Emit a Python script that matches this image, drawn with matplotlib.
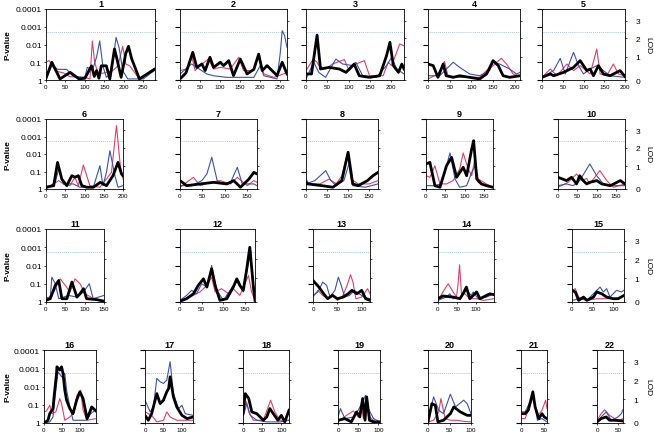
import matplotlib
matplotlib.use('Agg')
import matplotlib.pyplot as plt

plt.rcParams['font.family'] = ['Liberation Sans', 'DejaVu Sans']

# chromosome lengths in cM
chrom_len = [280, 268, 230, 212, 200, 200, 172, 171, 173, 173, 150,
             173, 117, 148, 126, 145, 130, 120, 104, 100, 57, 62]

# -log10(P) along each chromosome, (cM, value)
chr1_red = [(0,1.0),(8,1.1),(25,0.5),(45,0.4),(60,0.2),(80,0.15),(100,0.15),(113,0.06),(119,2.2),(125,1.0),(134,0.35),(150,0.4),(170,0.5),(185,0.8),(197,1.9),(205,0.9),(215,0.8),(240,0.06),(278,0.53)]
chr1_blue = [(0,0.06),(15,0.81),(30,0.6),(53,0.6),(70,0.2),(100,0.15),(106,0.71),(120,0.6),(130,1.3),(138,2.2),(146,0.8),(155,0.15),(168,0.4),(180,2.4),(188,1.8),(197,0.53),(210,0.06),(250,0.06),(278,0.53)]
chr1_black = [(0,0.1),(15,1.0),(36,0.06),(62,0.43),(85,0.06),(100,0.1),(117,0.8),(124,0.2),(130,0.53),(136,0.1),(142,0.8),(155,0.8),(164,0.06),(176,1.75),(182,1.2),(193,0.15),(205,1.5),(212,1.9),(220,1.2),(240,0.06),(278,0.6)]

chr2_red = [(0,0.53),(17,0.62),(29,1.37),(38,0.53),(50,0.81),(71,1.18),(84,0.62),(101,0.71),(126,0.62),(147,1.28),(159,0.53),(185,0.53),(197,1.46),(210,0.34),(235,0.15),(252,0.28),(268,0.43)]
chr2_blue = [(0,0.34),(29,0.9),(42,0.71),(67,0.34),(84,0.24),(117,0.15),(151,0.15),(185,0.15),(201,0.81),(210,0.24),(243,0.06),(251,1.5),(256,2.78),(262,2.5),(268,1.84)]
chr2_black = [(0,0.06),(15,0.4),(32,1.56),(42,0.71),(55,0.9),(63,0.53),(75,1.28),(84,0.71),(101,1.0),(109,0.81),(122,1.09),(134,0.25),(151,1.18),(168,0.34),(185,0.6),(197,1.46),(206,0.53),(218,0.81),(243,0.25),(256,1.0),(268,0.34)]

chr3_red = [(0,0.53),(17,1.18),(26,1.0),(30,0.81),(46,0.62),(62,0.9),(90,1.15),(101,0.53),(117,0.9),(137,1.09),(149,0.24),(181,0.24),(193,1.0),(201,0.81),(220,2.03),(230,1.93)]
chr3_blue = [(0,0.06),(18,1.0),(30,0.43),(46,0.15),(70,1.18),(86,0.9),(110,0.81),(117,1.0),(133,0.24),(165,0.15),(189,0.81),(201,1.28),(213,0.62),(230,0.34)]
chr3_black = [(0,0.34),(13,0.34),(26,2.53),(34,0.62),(54,0.71),(78,0.62),(94,0.43),(113,0.9),(125,0.24),(149,0.15),(173,0.24),(189,1.37),(197,2.12),(205,0.81),(217,0.43),(225,0.9),(230,0.62)]

chr4_red = [(0,0.06),(23,0.34),(38,1.05),(46,0.24),(73,0.15),(119,0.15),(135,0.53),(150,0.81),(169,1.22),(181,0.9),(196,0.34),(212,0.2)]
chr4_blue = [(0,0.24),(27,0.24),(58,1.0),(73,0.71),(96,0.34),(119,0.24),(142,0.53),(150,1.0),(165,0.9),(188,0.62),(204,0.34),(212,0.43)]
chr4_black = [(0,0.9),(12,0.81),(23,0.15),(35,0.9),(42,0.24),(58,0.15),(73,0.24),(96,0.15),(119,0.06),(135,0.34),(150,1.09),(162,0.81),(173,0.24),(188,0.15),(212,0.24)]

chr5_red = [(0,0.15),(20,0.62),(36,0.24),(60,0.9),(76,0.53),(92,0.81),(116,0.34),(132,1.75),(140,0.34),(156,0.24),(172,0.9),(184,0.34),(200,0.24)]
chr5_blue = [(0,0.15),(28,0.53),(44,1.22),(56,0.34),(76,1.56),(88,0.81),(100,0.34),(116,0.62),(132,0.81),(148,0.53),(164,0.24),(200,0.15)]
chr5_black = [(0,0.15),(20,0.34),(28,0.24),(52,0.43),(76,0.71),(92,1.09),(108,0.53),(116,0.62),(124,0.24),(136,0.81),(148,0.34),(164,0.24),(188,0.53),(200,0.2)]

chr6_red = [(0,0.1),(20,0.29),(33,0.48),(45,0.29),(62,0.19),(75,0.67),(84,0.19),(97,1.37),(114,0.19),(140,0.1),(157,0.57),(170,0.95),(183,3.62),(193,1.33),(200,0.57)]
chr6_blue = [(0,0.0),(24,0.38),(33,1.14),(45,0.29),(71,0.29),(88,0.1),(123,0.1),(140,1.33),(148,0.19),(157,0.95),(166,2.19),(179,0.76),(187,0.1),(200,0.19)]
chr6_black = [(0,0.1),(20,0.19),(30,1.52),(41,0.57),(54,0.19),(67,0.76),(75,0.67),(84,0.76),(93,0.19),(106,0.1),(123,0.1),(141,0.38),(157,0.19),(174,0.76),(187,1.52),(196,0.86),(200,0.76)]

chr7_red = [(0,0.1),(30,0.67),(45,0.19),(68,0.38),(90,0.48),(113,0.29),(128,0.67),(150,0.19),(165,0.48),(172,0.38)]
chr7_blue = [(0,0.19),(26,0.19),(49,0.48),(60,0.86),(71,1.81),(83,0.48),(98,0.29),(113,0.38),(128,1.24),(139,0.29),(165,0.29),(172,0.19)]
chr7_black = [(0,0.48),(15,0.19),(45,0.29),(75,0.38),(105,0.29),(120,0.48),(135,0.1),(154,0.57),(165,0.95),(172,0.86)]

chr8_red = [(0,0.57),(8,0.29),(33,0.29),(55,0.57),(72,0.29),(85,0.76),(98,2.0),(107,0.57),(124,0.29),(150,0.29),(171,0.48)]
chr8_blue = [(0,0.29),(21,0.48),(47,1.05),(59,0.48),(72,0.19),(90,0.48),(103,1.52),(111,0.19),(141,0.1),(171,0.29)]
chr8_black = [(0,0.38),(4,0.29),(38,0.19),(64,0.1),(85,0.48),(100,2.1),(111,0.29),(124,0.19),(146,0.48),(159,0.76),(171,0.95)]

chr9_red = [(0,0.76),(10,0.67),(23,1.33),(36,0.29),(53,0.29),(70,0.48),(87,1.14),(96,2.06),(109,1.14),(118,0.76),(126,1.71),(135,0.57),(156,0.29),(173,0.1)]
chr9_blue = [(0,0.19),(19,0.19),(40,0.29),(62,2.06),(75,0.57),(87,0.1),(105,0.19),(118,0.95),(127,1.33),(135,0.38),(156,0.19),(173,0.1)]
chr9_black = [(0,1.43),(10,1.52),(23,0.19),(36,0.1),(53,1.33),(66,1.81),(79,0.67),(96,1.24),(105,0.76),(118,2.29),(123,2.76),(131,0.57),(143,0.29),(156,0.19),(173,0.1)]

chr10_red = [(0,0.1),(26,0.38),(48,0.86),(61,0.48),(74,0.6),(82,0.29),(108,1.05),(126,0.48),(143,0.1),(173,0.29)]
chr10_blue = [(0,0.19),(22,0.29),(39,0.19),(56,0.48),(82,1.43),(100,0.76),(117,0.29),(143,0.19),(173,0.19)]
chr10_black = [(0,0.67),(22,0.48),(35,0.67),(48,0.29),(56,0.76),(65,0.48),(74,0.29),(82,0.38),(100,0.48),(113,0.29),(135,0.19),(161,0.48),(173,0.29)]

chr11_red = [(0,0.09),(20,0.55),(37,1.27),(50,0.91),(62,0.55),(75,1.27),(88,1.0),(101,0.45),(131,0.09),(150,0.09)]
chr11_blue = [(0,0.27),(11,0.18),(15,1.36),(24,1.0),(33,0.18),(58,0.36),(80,0.27),(97,0.55),(112,1.0),(122,0.18),(150,0.36)]
chr11_black = [(0,0.09),(11,0.18),(24,0.91),(33,1.18),(41,0.18),(54,0.18),(67,1.09),(80,0.27),(88,0.45),(97,0.73),(105,0.18),(131,0.13),(150,0.04)]

chr12_red = [(0,0.09),(23,0.27),(46,0.55),(62,0.91),(73,1.36),(81,0.55),(96,0.73),(112,0.45),(123,0.73),(138,0.36),(158,1.45),(165,0.55),(173,0.09)]
chr12_blue = [(0,0.09),(15,0.36),(27,0.64),(38,0.45),(50,1.0),(62,0.82),(73,2.0),(85,0.64),(100,0.09),(123,0.91),(135,1.18),(146,0.55),(158,2.18),(163,2.82),(169,0.55),(173,0.18)]
chr12_black = [(0,0.04),(15,0.18),(31,0.45),(42,0.91),(54,1.27),(62,0.82),(73,1.82),(81,0.91),(92,0.09),(108,0.18),(123,0.82),(131,1.27),(138,0.91),(146,0.64),(154,1.82),(161,3.0),(169,0.91),(173,0.09)]

chr13_red = [(0,0.27),(10,0.64),(20,0.36),(30,0.18),(40,0.45),(50,0.09),(60,0.27),(70,0.91),(77,1.49),(82,1.09),(88,0.18),(100,0.27),(112,0.73),(117,0.45)]
chr13_blue = [(0,0.36),(10,0.55),(20,1.09),(28,0.91),(35,0.27),(45,0.64),(52,1.36),(58,0.91),(65,0.27),(75,0.36),(85,0.64),(95,0.45),(105,0.27),(117,0.18)]
chr13_black = [(0,1.18),(12,0.82),(22,0.45),(30,0.18),(40,0.36),(50,0.18),(62,0.27),(72,0.45),(80,0.64),(90,0.45),(100,0.64),(108,0.18),(117,0.09)]

chr14_red = [(0,0.09),(13,0.55),(27,1.0),(40,0.55),(49,0.27),(53,1.0),(57,2.04),(62,0.45),(71,0.45),(84,0.18),(102,0.18),(120,0.09),(148,0.18)]
chr14_blue = [(0,0.09),(22,0.27),(31,0.45),(40,0.18),(62,0.27),(75,0.64),(88,0.36),(93,0.55),(106,0.18),(128,0.27),(148,0.45)]
chr14_black = [(0,0.18),(13,0.33),(40,0.27),(58,0.18),(66,0.45),(75,0.82),(84,0.18),(93,0.36),(102,0.55),(111,0.18),(128,0.36),(137,0.45),(148,0.4)]

chr15_red = [(0,0.64),(8,0.73),(16,0.27),(36,0.09),(60,0.18),(84,0.18),(100,0.18),(116,0.27),(126,0.36)]
chr15_blue = [(0,0.09),(20,0.18),(36,0.09),(60,0.64),(68,0.82),(76,0.55),(84,0.73),(92,0.27),(108,0.64),(120,0.55),(126,0.64)]
chr15_black = [(0,0.64),(8,0.55),(16,0.09),(28,0.27),(36,0.09),(52,0.27),(60,0.55),(72,0.45),(84,0.27),(100,0.18),(112,0.18),(126,0.36)]

chr16_red = [(0,0.61),(7,0.66),(16,0.97),(23,0.51),(33,0.61),(44,1.34),(49,1.06),(58,0.15),(72,0.33),(81,0.51),(92,1.52),(102,1.8),(109,0.7),(120,0.15),(145,0.24)]
chr16_blue = [(0,0.0),(16,0.06),(25,0.33),(33,1.8),(39,2.81),(49,2.53),(58,2.72),(63,1.8),(72,0.88),(81,0.15),(100,0.15),(119,0.15),(130,0.51),(145,0.73)]
chr16_black = [(0,0.0),(11,0.15),(16,0.51),(25,0.79),(28,1.43),(35,2.72),(36,3.08),(44,2.9),(49,3.08),(53,2.72),(58,1.8),(63,1.25),(72,0.79),(81,0.51),(91,1.25),(100,1.71),(109,1.34),(120,0.24),(128,0.61),(133,0.88),(145,0.66)]

chr17_red = [(0,0.61),(18,0.42),(32,0.06),(50,0.15),(59,0.61),(68,0.33),(86,0.15),(114,0.15),(130,0.15)]
chr17_blue = [(0,1.25),(14,0.61),(23,0.88),(32,2.44),(41,2.26),(50,2.17),(59,2.35),(68,3.36),(77,1.61),(91,0.79),(100,0.97),(109,0.51),(130,0.42)]
chr17_black = [(0,0.42),(9,0.15),(18,0.51),(32,1.61),(41,1.06),(50,1.25),(59,1.71),(64,1.89),(68,2.53),(77,1.43),(86,0.88),(100,0.42),(114,0.24),(130,0.33)]

chr18_red = [(0,0.61),(9,1.16),(15,0.61),(27,0.15),(53,0.15),(72,1.25),(83,0.61),(96,0.15),(120,0.15)]
chr18_blue = [(0,0.33),(10,1.06),(19,0.42),(36,0.15),(62,0.06),(96,0.06),(120,0.15)]
chr18_black = [(0,0.51),(6,1.61),(15,1.34),(23,0.61),(36,0.51),(53,0.15),(62,0.33),(70,0.79),(79,0.51),(91,0.15),(100,0.42),(109,0.06),(120,0.7)]

chr19_red = [(0,0.06),(21,0.42),(38,0.66),(50,0.33),(58,0.88),(63,0.24),(71,1.25),(79,0.33),(92,0.06),(104,0.0)]
chr19_blue = [(0,0.33),(6,0.79),(17,0.24),(38,0.33),(50,0.7),(63,1.25),(68,1.52),(75,0.79),(88,0.24),(104,0.06)]
chr19_black = [(0,0.15),(17,0.24),(33,0.06),(46,0.61),(54,0.33),(61,1.34),(67,0.15),(71,1.43),(78,0.15),(88,0.06),(104,0.06)]

chr20_red = [(0,0.06),(13,0.15),(25,0.61),(30,1.34),(40,0.24),(52,0.15),(67,0.15),(83,0.09),(100,0.06)]
chr20_blue = [(0,0.15),(13,1.43),(25,0.7),(36,0.51),(52,1.58),(64,0.88),(83,1.25),(91,1.06),(100,0.51)]
chr20_black = [(0,0.06),(9,1.06),(17,0.97),(23,0.06),(36,0.15),(52,0.51),(60,0.88),(75,0.61),(91,0.42),(100,0.42)]

chr21_red = [(0,0.24),(9,0.24),(20,0.97),(27,1.43),(35,0.33),(46,0.7),(54,1.25),(57,0.79)]
chr21_blue = [(0,0.61),(9,0.61),(20,1.16),(27,1.52),(36,0.15),(46,0.24),(57,0.06)]
chr21_black = [(0,0.51),(9,0.51),(16,0.7),(26,1.71),(31,0.88),(39,0.24),(46,0.51),(51,0.33),(57,0.24)]

chr22_red = [(0,0.15),(10,0.51),(18,0.73),(30,0.42),(42,0.24),(54,0.15),(62,0.24)]
chr22_blue = [(0,0.0),(10,0.33),(22,0.61),(34,0.15),(50,0.33),(58,0.51),(62,0.73)]
chr22_black = [(0,0.06),(10,0.24),(22,0.33),(30,0.15),(42,0.15),(62,0.11)]

red = [chr1_red, chr2_red, chr3_red, chr4_red, chr5_red, chr6_red, chr7_red, chr8_red, chr9_red, chr10_red, chr11_red,
       chr12_red, chr13_red, chr14_red, chr15_red, chr16_red, chr17_red, chr18_red, chr19_red, chr20_red, chr21_red, chr22_red]
blue = [chr1_blue, chr2_blue, chr3_blue, chr4_blue, chr5_blue, chr6_blue, chr7_blue, chr8_blue, chr9_blue, chr10_blue, chr11_blue,
        chr12_blue, chr13_blue, chr14_blue, chr15_blue, chr16_blue, chr17_blue, chr18_blue, chr19_blue, chr20_blue, chr21_blue, chr22_blue]
black = [chr1_black, chr2_black, chr3_black, chr4_black, chr5_black, chr6_black, chr7_black, chr8_black, chr9_black, chr10_black, chr11_black,
         chr12_black, chr13_black, chr14_black, chr15_black, chr16_black, chr17_black, chr18_black, chr19_black, chr20_black, chr21_black, chr22_black]

p_ticks = [0, 1, 2, 3, 4]
p_labels = ['1', '0.1', '0.01', '0.001', '0.0001']
lod_ticks = [0, 1.3, 2.35, 3.35]
lod_labels = ['0', '1', '2', '3']
threshold = 2.72

# panel boxes in pixels: left, right, top, bottom
W, H = 654, 439
boxes = [(46,155,10,81),(180,287,10,81),(306,404,10,81),(428,520,10,81),(542,625,10,81),
         (46,123,120,190),(180,257,120,190),(306,378,120,190),(426,493,120,190),(558,625,120,190),
         (46,104,230,303),(180,255,230,303),(313,370,230,303),(438,494,230,303),(572,624,230,303),
         (44,96,351,424),(145,193,351,424),(243,289,351,424),(338,380,351,424),(428,471,351,424),
         (521,547,351,424),(597,623,351,424)]
first_col = [0, 5, 10, 15]
last_col = [4, 9, 14, 21]

fig = plt.figure(figsize=(W/100, H/100), dpi=100)

for i in range(22):
    l, r, t, b = boxes[i]
    ax = fig.add_axes([l/W, 1-b/H, (r-l)/W, (b-t)/H])
    ax.axhline(threshold, color='#a8c4e8', lw=0.7, ls=(0, (1, 1)))
    for series, col, lw in [(red[i], '#e0406a', 0.8), (blue[i], '#3a52b0', 0.8), (black[i], 'black', 2.0)]:
        ax.plot([p[0] for p in series], [p[1] for p in series], color=col, lw=lw)
    ax.set_xlim(0, chrom_len[i])
    ax.set_ylim(0, 4)
    ax.set_xticks(range(0, chrom_len[i]+1, 50))
    ax.tick_params(axis='x', labelsize=4.5, length=1.5, width=0.5, pad=1.5)
    ax.set_yticks(p_ticks)
    if i in first_col:
        ax.set_yticklabels(p_labels)
        ax.tick_params(axis='y', labelsize=6, length=1.5, width=0.5, pad=1.5)
    else:
        ax.tick_params(axis='y', left=False, labelleft=False)
    for s in ax.spines.values():
        s.set_linewidth(0.6)
    ax.set_title(str(i+1), fontsize=6.5, fontweight='bold', pad=2)
    ax2 = ax.twinx()
    ax2.set_ylim(0, 4)
    ax2.set_yticks(lod_ticks)
    if i in last_col:
        ax2.set_yticklabels(lod_labels)
        ax2.tick_params(axis='y', labelsize=6, length=1.5, width=0.5, pad=6)
    else:
        ax2.set_yticklabels([])
        ax2.tick_params(axis='y', length=1.5, width=0.5)
    for s in ax2.spines.values():
        s.set_visible(False)

for t, b in [(10,81), (120,190), (230,303), (351,424)]:
    yc = 1 - (t+b)/2/H
    fig.text(8/W, yc, 'P-value', rotation=90, ha='center', va='center', fontsize=6, fontweight='bold')
    fig.text(648/W, yc, 'LOD', rotation=270, ha='center', va='center', fontsize=6)

fig.savefig('out.png', dpi=100)
